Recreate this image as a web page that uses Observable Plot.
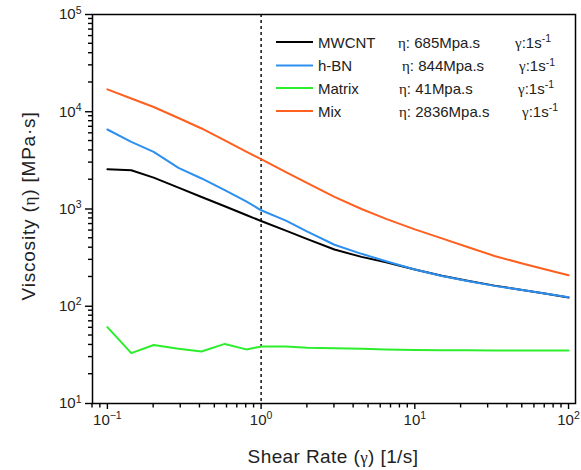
<!DOCTYPE html>
<html>
<head>
<meta charset="utf-8">
<script src="https://cdn.jsdelivr.net/npm/d3@7"></script>
<script src="https://cdn.jsdelivr.net/npm/@observablehq/plot@0.6"></script>
<style>
  html, body { margin: 0; padding: 0; background: #fff; }
  svg { font-family: "Liberation Sans", Arial, sans-serif; }
</style>
</head>
<body>
<div id="chart"></div>
<script>
const shearRate = [0.1, 0.143, 0.2, 0.29, 0.41, 0.58, 0.8, 1, 1.45, 2, 3, 4.5, 6.5, 10, 15, 22, 33, 50, 70, 100];
const mwcnt  = [2560, 2500, 2100, 1660, 1330, 1067, 867, 752, 600, 490, 383, 322, 283, 239, 206, 183, 163, 147, 135, 123];
const hbn    = [6570, 4900, 3870, 2650, 2060, 1560, 1200, 970, 760, 584, 429, 346, 290, 239, 205, 182, 162, 147, 135, 124];
const matrix = [61, 33, 40, 36.5, 34.3, 41, 36, 38.5, 38.5, 37.5, 37, 36.5, 36, 35.5, 35.3, 35.2, 35, 35, 35, 35];
const mix    = [17000, 13700, 11200, 8630, 6730, 5070, 3900, 3250, 2400, 1850, 1334, 1000, 791, 618, 499, 407, 329, 275, 240, 208];

const seriesNames = ["MWCNT", "h-BN", "Matrix", "Mix"];
const seriesValues = [mwcnt, hbn, matrix, mix];
const seriesColors = ["#000000", "#2d8ff0", "#2cee2c", "#ff5f1f"];
const legendEta = ["685", "844", "41", "2836"];

const xTicks = [0.1, 1, 10, 100];
const yTicks = [10, 100, 1000, 10000, 100000];
const xLabel = ["Shear Rate (", "γ", ") [1/s]"];
const yLabel = ["Viscosity (", "η", ") [MPa·s]"];

const minorOf = (lo, hi) => {
  const out = [];
  for (let d = lo; d < hi; d *= 10) for (let k = 2; k <= 9; k++) out.push(d * k);
  return out;
};
const xMinor = [0.08, 0.09, ...minorOf(0.1, 100)];
const yMinor = minorOf(10, 100000);

const rows = [];
seriesNames.forEach((name, i) => {
  shearRate.forEach((x, j) => rows.push({name, x, y: seriesValues[i][j]}));
});

const expFmt = d => String(Math.round(Math.log10(d)));

const plot = Plot.plot({
  width: 581,
  height: 470,
  marginLeft: 92,
  marginRight: 6,
  marginTop: 14,
  marginBottom: 67,
  x: {type: "log", domain: [0.08, 111]},
  y: {type: "log", domain: [10, 100000]},
  color: {domain: seriesNames, range: seriesColors},
  marks: [
    Plot.ruleX([1], {stroke: "#000", strokeWidth: 1.4, strokeDasharray: "3,3"}),
    Plot.line(rows, {x: "x", y: "y", z: "name", stroke: "name", strokeWidth: 2}),
    Plot.axisX({ticks: xTicks, tickSize: 6, tickPadding: 5, tickFormat: expFmt, label: null, fontSize: 15, strokeWidth: 1.4}),
    Plot.axisY({ticks: yTicks, tickSize: 7, tickPadding: 4, tickFormat: expFmt, label: null, fontSize: 15, strokeWidth: 1.4}),
    Plot.frame({stroke: "#000", strokeWidth: 1.5})
  ]
});

const svg = d3.select(plot);
svg.style("font-family", '"Liberation Sans", Arial, sans-serif');

// minor ticks (outward), positioned through the plot's own scales
const sx = plot.scale("x"), sy = plot.scale("y");
const xPix = v => sx.apply(v);
const yPix = v => sy.apply(v);
const yBottom = sy.range[0];
const xLeft = sx.range[0];
const mg = svg.append("g").attr("stroke", "#000").attr("stroke-width", 1.4).attr("fill", "none");
xMinor.forEach(v => {
  const px = xPix(v);
  mg.append("path").attr("d", `M${px},${yBottom}V${yBottom + 4.5}`);
});
yMinor.forEach(v => {
  const py = yPix(v);
  mg.append("path").attr("d", `M${xLeft},${py}H${xLeft - 4}`);
});

// superscript powers of ten on tick labels
svg.selectAll('g[aria-label="x-axis tick label"] text, g[aria-label="y-axis tick label"] text').each(function () {
  const t = d3.select(this);
  const e = t.text();
  if (e === "") return;
  t.text("10");
  t.append("tspan").attr("dy", "-0.55em").attr("font-size", "0.7em").text(e.replace("-", "\u2212"));
});
svg.selectAll('g[aria-label="x-axis tick label"] text, g[aria-label="y-axis tick label"] text').attr("fill", "#222");

// axis titles
const xt = svg.append("text")
  .attr("x", 333).attr("y", 463).attr("text-anchor", "middle")
  .attr("font-size", 19).attr("letter-spacing", "0.4").attr("fill", "#222");
xt.append("tspan").text(xLabel[0]);
xt.append("tspan").attr("font-family", '"Liberation Serif", serif').attr("font-size", 17).text(xLabel[1]);
xt.append("tspan").text(xLabel[2]);

const yt = svg.append("text")
  .attr("transform", "translate(35,206) rotate(-90)").attr("text-anchor", "middle")
  .attr("font-size", 19).attr("letter-spacing", "0.8").attr("fill", "#222");
yt.append("tspan").text(yLabel[0]);
yt.append("tspan").attr("font-family", '"Liberation Serif", serif').attr("font-size", 17).text(yLabel[1]);
yt.append("tspan").text(yLabel[2]);

// legend
const legendY = [42, 65.5, 88, 111];
const etaX = [398, 402, 399, 399];
const gamX = [515, 519, 518, 522];
const lg = svg.append("g").attr("font-size", 15).attr("fill", "#222").attr("text-anchor", "start");
seriesNames.forEach((name, i) => {
  const cy = legendY[i];
  lg.append("line").attr("x1", 276).attr("x2", 313).attr("y1", cy).attr("y2", cy)
    .attr("stroke", seriesColors[i]).attr("stroke-width", 2);
  lg.append("text").attr("x", 318).attr("y", cy + 5.5).text(name);
  const et = lg.append("text").attr("x", etaX[i]).attr("y", cy + 5.5);
  et.append("tspan").attr("font-family", '"Liberation Serif", serif').text("η");
  et.append("tspan").text(": " + legendEta[i] + "Mpa.s");
  const gt = lg.append("text").attr("x", gamX[i]).attr("y", cy + 5.5);
  gt.append("tspan").attr("font-family", '"Liberation Serif", serif').text("γ");
  gt.append("tspan").text(":1s");
  gt.append("tspan").attr("dy", "-0.5em").attr("font-size", "0.7em").text("-1");
});

document.getElementById("chart").appendChild(plot);
</script>
</body>
</html>
